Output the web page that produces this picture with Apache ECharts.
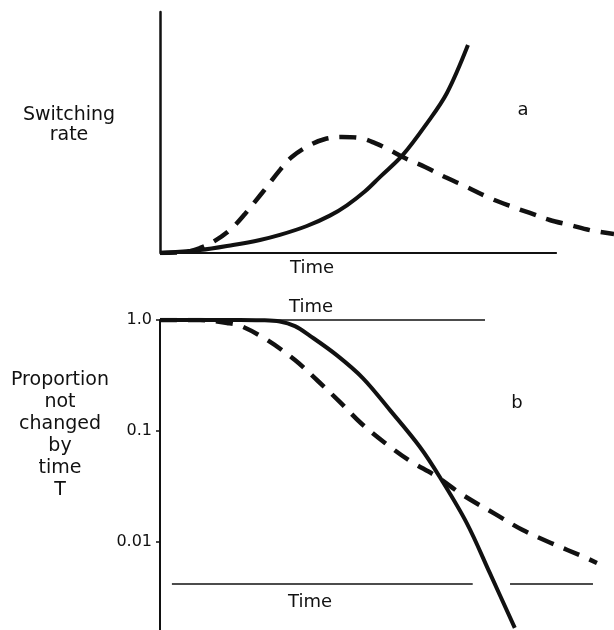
<!DOCTYPE html>
<html>
<head>
<meta charset="utf-8">
<script src="https://cdn.jsdelivr.net/npm/echarts@6/dist/echarts.min.js"></script>
<style>
  html, body { margin: 0; padding: 0; background: #fff; }
  #chart { width: 614px; height: 630px; }
</style>
</head>
<body>
<div id="chart"></div>
<script>
// panel a: switching rate against time (arbitrary units)
var rateSolidT = [0, 1.01, 1.84, 2.52, 3.02, 3.70, 4.28, 4.71, 5.16, 5.54, 6.12, 6.73, 7.23, 7.76];
var rateSolidV = [0, 0.12, 0.33, 0.54, 0.75, 1.12, 1.55, 1.98, 2.55, 3.15, 4.07, 5.39, 6.64, 8.63];
var rateDashT = [0, 0.63, 1.01, 1.34, 1.76, 2.14, 2.57, 3.02, 3.32, 3.78, 4.16, 4.58, 5.04, 5.42, 5.79, 6.17, 6.68, 7.18, 7.73, 8.31, 8.82, 9.32, 9.82, 10.33, 10.83, 11.44];
var rateDashV = [0, 0.04, 0.21, 0.46, 0.95, 1.62, 2.49, 3.44, 3.98, 4.48, 4.73, 4.81, 4.77, 4.56, 4.27, 3.94, 3.57, 3.15, 2.74, 2.28, 1.95, 1.66, 1.37, 1.16, 0.95, 0.79];

// panel b: proportion not changed by time T (log scale)
var propSolidT = [0, 1.01, 2.02, 2.52, 3.02, 3.40, 3.78, 4.46, 5.11, 5.79, 6.55, 7.05, 7.73, 8.31, 8.94];
var propSolidV = [1, 1, 1, 0.995, 0.97, 0.88, 0.72, 0.48, 0.30, 0.155, 0.0718, 0.0385, 0.0148, 0.00526, 0.00168];
var propDashT = [0, 1.01, 1.69, 2.04, 2.70, 3.40, 3.98, 4.53, 5.06, 5.67, 6.30, 6.95, 7.63, 8.44, 9.14, 9.85, 10.68, 11.01];
var propDashV = [1, 1, 0.94, 0.883, 0.66, 0.436, 0.282, 0.183, 0.118, 0.078, 0.0537, 0.0393, 0.0265, 0.0179, 0.0128, 0.0098, 0.00733, 0.00647];

var tickValues = [1, 0.1, 0.01];
var tickLabels = ['1.0', '0.1', '0.01'];

// the "Time" base line of panel a and the two reference lines of panel b
var timeAxisA = [[0, 0], [10, 0]];
var topTimeLine = [[0, 1], [8.19, 1]];
var bottomTimeLines = [[[0.3, 0.0042], [7.88, 0.0042]], [[8.82, 0.0042], [10.91, 0.0042]]];

function zip(t, v) {
    var out = [];
    for (var i = 0; i < t.length; i++) out.push([t[i], v[i]]);
    return out;
}
function seg(s) {
    return [{coord: s[0]}, {coord: s[1]}];
}

var myChart = echarts.init(document.getElementById('chart'));
var ink = '#111';
var font = 'DejaVu Sans';
var tMax = 11.44;

var option = {
    backgroundColor: '#fff',
    animation: false,
    grid: [
        {left: 160, top: 12, right: 0, height: 241},
        {left: 160, top: 320, right: 0, height: 310}
    ],
    xAxis: [
        {
            gridIndex: 0, type: 'value', min: 0, max: tMax,
            axisLine: {show: false},
            axisTick: {show: false}, axisLabel: {show: false}, splitLine: {show: false}
        },
        {
            gridIndex: 1, type: 'value', min: 0, max: tMax,
            axisLine: {show: false},
            axisTick: {show: false}, axisLabel: {show: false}, splitLine: {show: false}
        }
    ],
    yAxis: [
        {
            gridIndex: 0, type: 'value', min: 0, max: 10,
            axisLine: {show: true, lineStyle: {color: ink, width: 2.5}},
            axisTick: {show: false}, axisLabel: {show: false}, splitLine: {show: false}
        },
        {
            gridIndex: 1, type: 'log', min: 0.00161, max: 1, logBase: 10,
            axisLine: {show: true, lineStyle: {color: ink, width: 2}},
            axisTick: {show: true, length: 4, customValues: tickValues, lineStyle: {color: ink, width: 1.5}},
            axisLabel: {
                show: true, customValues: tickValues, margin: 8,
                color: ink, fontFamily: font, fontSize: 16,
                formatter: function (v) {
                    for (var i = 0; i < tickValues.length; i++) {
                        if (Math.abs(Math.log10(v) - Math.log10(tickValues[i])) < 0.01) return tickLabels[i];
                    }
                    return '';
                }
            },
            splitLine: {show: false}
        }
    ],
    series: [
        {
            type: 'line', xAxisIndex: 0, yAxisIndex: 0,
            data: zip(rateSolidT, rateSolidV),
            smooth: 0.35, showSymbol: false,
            lineStyle: {color: ink, width: 4},
            markLine: {
                silent: true,
                symbol: ['none', 'none'],
                label: {show: false},
                lineStyle: {color: ink, width: 2, type: 'solid'},
                data: [seg(timeAxisA)]
            }
        },
        {
            type: 'line', xAxisIndex: 0, yAxisIndex: 0,
            data: zip(rateDashT, rateDashV),
            smooth: 0.35, showSymbol: false,
            lineStyle: {color: ink, width: 4.5, type: [17, 11]}
        },
        {
            type: 'line', xAxisIndex: 1, yAxisIndex: 1,
            data: zip(propSolidT, propSolidV),
            smooth: 0.35, showSymbol: false,
            lineStyle: {color: ink, width: 4},
            markLine: {
                silent: true,
                symbol: ['none', 'none'],
                label: {show: false},
                lineStyle: {color: ink, width: 1.5, type: 'solid'},
                data: [seg(topTimeLine)].concat(bottomTimeLines.map(seg))
            }
        },
        {
            type: 'line', xAxisIndex: 1, yAxisIndex: 1,
            data: zip(propDashT, propDashV),
            smooth: 0.35, showSymbol: false,
            lineStyle: {color: ink, width: 4.5, type: [17, 11]}
        }
    ],
    graphic: [
        {type: 'text', style: {text: 'Switching\nrate', x: 69, y: 125, textAlign: 'center', textVerticalAlign: 'middle', font: '19px "DejaVu Sans"', lineHeight: 20, fill: ink}},
        {type: 'text', style: {text: 'a', x: 523, y: 110, textAlign: 'center', textVerticalAlign: 'middle', font: '18px "DejaVu Sans"', fill: ink}},
        {type: 'text', style: {text: 'Time', x: 312, y: 268, textAlign: 'center', textVerticalAlign: 'middle', font: '18px "DejaVu Sans"', fill: ink}},
        {type: 'text', style: {text: 'Time', x: 311, y: 307, textAlign: 'center', textVerticalAlign: 'middle', font: '18px "DejaVu Sans"', fill: ink}},
        {type: 'text', style: {text: 'Time', x: 310, y: 602, textAlign: 'center', textVerticalAlign: 'middle', font: '18px "DejaVu Sans"', fill: ink}},
        {type: 'text', style: {text: 'b', x: 517, y: 403, textAlign: 'center', textVerticalAlign: 'middle', font: '18px "DejaVu Sans"', fill: ink}},
        {type: 'text', style: {text: 'Proportion\nnot\nchanged\nby\ntime\nT', x: 60, y: 435, textAlign: 'center', textVerticalAlign: 'middle', font: '19px "DejaVu Sans"', lineHeight: 22, fill: ink}}
    ]
};
myChart.setOption(option);
</script>
</body>
</html>
